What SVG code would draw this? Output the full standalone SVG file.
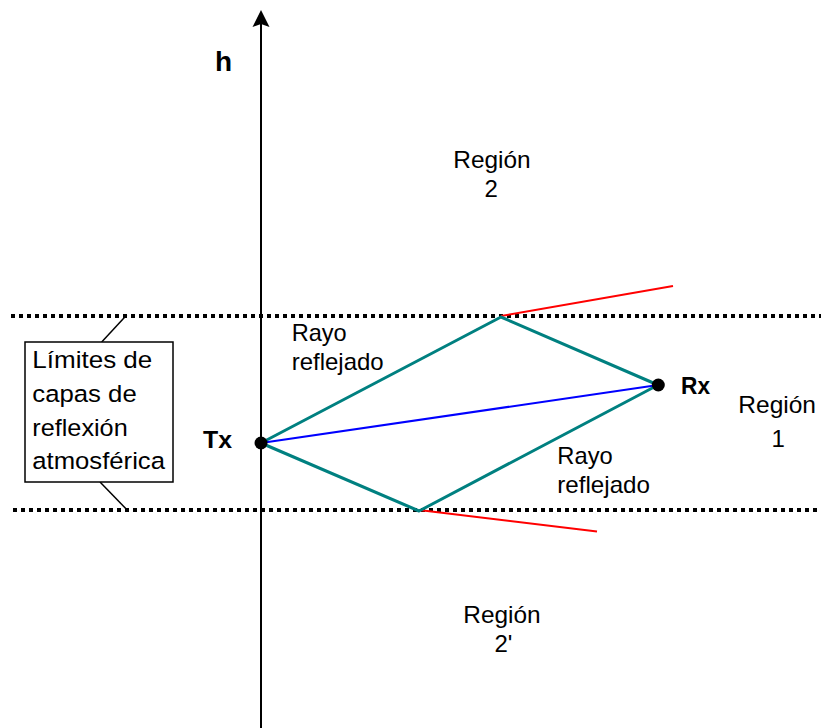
<svg xmlns="http://www.w3.org/2000/svg" width="821" height="728" viewBox="0 0 821 728">
<style>
.t{font-family:"Liberation Sans",Arial,sans-serif;font-size:24px;fill:#000}
.b{font-family:"Liberation Sans",Arial,sans-serif;font-size:23px;font-weight:bold;fill:#000}
.bx{font-family:"Liberation Sans",Arial,sans-serif;font-size:24.5px;fill:#000}
.dot{stroke:#000;stroke-width:4;stroke-dasharray:4 4;fill:none}
.ray{stroke:#008080;stroke-width:3;fill:none;stroke-linejoin:round}
.red{stroke:#ff0000;stroke-width:2;fill:none}
.blue{stroke:#0000ff;stroke-width:2;fill:none}
.thin{stroke:#000;stroke-width:1.5;fill:none}
</style>
<rect width="821" height="728" fill="#fff"/>
<g id="layers">
<line class="dot" x1="11" y1="316" x2="821" y2="316"/>
<line class="dot" x1="13" y1="510" x2="821" y2="510"/>
</g>
<g id="axis">
<line x1="261" y1="728" x2="261" y2="24" stroke="#000" stroke-width="2"/>
<path d="M261,10 L269.5,27 L261,24 L252.5,27 Z" fill="#000"/>
<text class="b" x="215" y="70.5" style="font-size:28px">h</text>
</g>
<g id="connectors">
<line class="red" x1="501" y1="316" x2="673" y2="286"/>
<line class="red" x1="419" y1="510" x2="597" y2="531.5"/>
<polyline class="ray" points="261,443 501,317 658,385 419,511 261,443"/>
<line class="blue" x1="261" y1="443" x2="658" y2="385"/>
</g>
<g id="Tx">
<circle cx="261" cy="443" r="6.5" fill="#000"/>
<text class="b" x="203" y="448.3" textLength="29" lengthAdjust="spacingAndGlyphs">Tx</text>
</g>
<g id="Rx">
<circle cx="658.3" cy="385" r="6.5" fill="#000"/>
<text class="b" x="681" y="394.3" textLength="29" lengthAdjust="spacingAndGlyphs">Rx</text>
</g>
<g id="region2">
<text class="t" x="453.3" y="168" textLength="77.4" lengthAdjust="spacingAndGlyphs">Región</text>
<text class="t" x="484.5" y="197">2</text>
</g>
<g id="region1">
<text class="t" x="738.3" y="413.3" textLength="77.7" lengthAdjust="spacingAndGlyphs">Región</text>
<text class="t" x="771.5" y="447">1</text>
</g>
<g id="region2p">
<text class="t" x="463.3" y="622.7" textLength="77.4" lengthAdjust="spacingAndGlyphs">Región</text>
<text class="t" x="494.5" y="652">2'</text>
</g>
<g id="rayo-upper">
<text class="t" x="291.7" y="341" textLength="55" lengthAdjust="spacingAndGlyphs">Rayo</text>
<text class="t" x="291.7" y="369.5" textLength="92" lengthAdjust="spacingAndGlyphs">reflejado</text>
</g>
<g id="rayo-lower">
<text class="t" x="557.3" y="464.3" textLength="55.4" lengthAdjust="spacingAndGlyphs">Rayo</text>
<text class="t" x="557.3" y="493" textLength="92.7" lengthAdjust="spacingAndGlyphs">reflejado</text>
</g>
<g id="legend">
<line class="thin" x1="101.7" y1="342" x2="126.7" y2="315"/>
<line class="thin" x1="100" y1="482" x2="126.7" y2="509.5"/>
<rect x="25" y="342" width="148" height="140" fill="#fff" stroke="#000" stroke-width="1.5"/>
<text class="bx" x="32.3" y="368" textLength="120" lengthAdjust="spacingAndGlyphs">Límites de</text>
<text class="bx" x="32.3" y="401.7" textLength="104.4" lengthAdjust="spacingAndGlyphs">capas de</text>
<text class="bx" x="32.3" y="436" textLength="95.4" lengthAdjust="spacingAndGlyphs">reflexión</text>
<text class="bx" x="32.3" y="469" textLength="132.7" lengthAdjust="spacingAndGlyphs">atmosférica</text>
</g>
</svg>
